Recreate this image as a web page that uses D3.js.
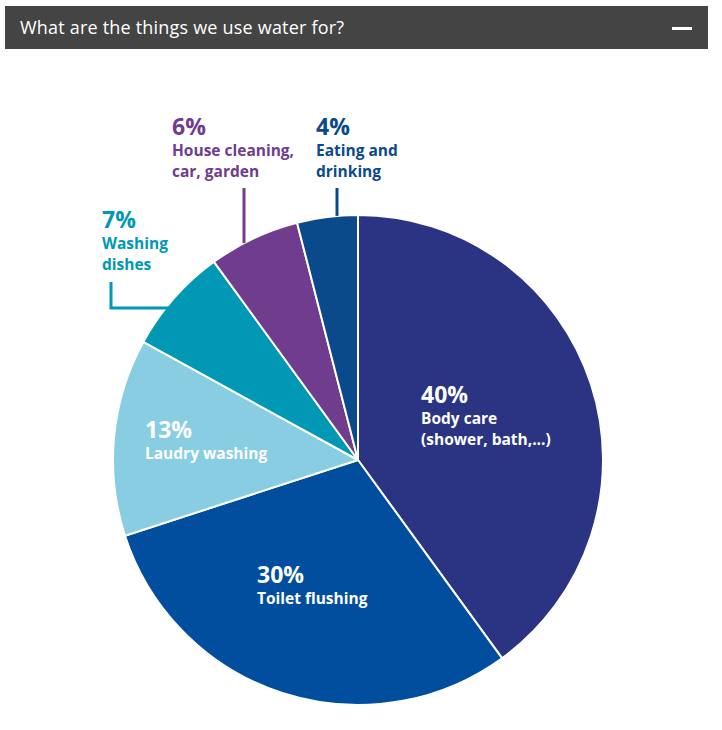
<!DOCTYPE html>
<html>
<head>
<meta charset="utf-8">
<script src="https://cdn.jsdelivr.net/npm/d3@7"></script>
<style>
  body { margin: 0; background: #fff; }
  svg text { font-family: "Open Sans", sans-serif; }
</style>
</head>
<body>
<div id="chart"></div>
<script>
var title = "What are the things we use water for?";
var categories = ["Body care", "Toilet flushing", "Laudry washing", "Washing dishes", "House cleaning", "Eating and drinking"];
var values = [40, 30, 13, 7, 6, 4];
var colors = ["#2b3482", "#004e9d", "#89cde3", "#0098b4", "#703c8d", "#0a4a8b"];
// label lines as shown in the picture
var labelLines = [
  ["Body care", "(shower, bath,...)"],
  ["Toilet flushing"],
  ["Laudry washing"],
  ["Washing", "dishes"],
  ["House cleaning,", "car, garden"],
  ["Eating and", "drinking"]
];

var width = 722, height = 730;
var cx = 358, cy = 460, radius = 245;

var svg = d3.select('#chart').append('svg')
  .attr('width', width)
  .attr('height', height);

// header bar
svg.append('rect')
  .attr('x', 5).attr('y', 6)
  .attr('width', 703).attr('height', 43)
  .attr('fill', '#444444');
svg.append('text')
  .attr('x', 20).attr('y', 34)
  .attr('fill', '#fff')
  .attr('font-size', 18)
  .attr('letter-spacing', 0.2)
  .text(title);
svg.append('rect')
  .attr('x', 672).attr('y', 27)
  .attr('width', 20).attr('height', 3)
  .attr('fill', '#fff');

var pie = d3.pie().sort(null).value(function (d) { return d; });
var arcs = pie(values);
var arc = d3.arc().innerRadius(0).outerRadius(radius);

var g = svg.append('g').attr('transform', 'translate(' + cx + ',' + cy + ')');

g.selectAll('path').data(arcs)
  .enter().append('path')
  .attr('d', arc)
  .attr('fill', function (d, i) { return colors[i]; })
  .attr('stroke', '#fff')
  .attr('stroke-width', 2)
  .attr('stroke-linejoin', 'round');

// label placement (layout only): inside slices use offset from pie centre,
// outside ones use a leader from the arc edge
var labelLayout = [
  { x: 63, y: -57, inside: true },
  { x: -101, y: 123, inside: true },
  { x: -213, y: -22, inside: true },
  { x: -256, y: -232, lead: 'elbow', lx: -247, ly: -152 },
  { x: -186, y: -325, lead: 'vertical', lx: -114 },
  { x: -42, y: -325, lead: 'vertical', lx: -21 }
];

function arcY(x) { return -Math.sqrt(radius * radius - x * x); }

arcs.forEach(function (d, i) {
  var L = labelLayout[i];
  var col = L.inside ? '#fff' : colors[i];
  var t = g.append('text')
    .attr('x', L.x).attr('y', L.y)
    .attr('fill', col)
    .attr('font-weight', 700);
  t.append('tspan')
    .attr('x', L.x)
    .attr('font-size', 23)
    .text(values[i] + '%');
  labelLines[i].forEach(function (line) {
    t.append('tspan')
      .attr('x', L.x)
      .attr('dy', 21)
      .attr('font-size', 15.5)
      .text(line);
  });

  if (L.lead == 'vertical') {
    g.append('line')
      .attr('x1', L.lx).attr('y1', L.y + 53)
      .attr('x2', L.lx).attr('y2', arcY(L.lx))
      .attr('stroke', colors[i])
      .attr('stroke-width', 3);
  } else if (L.lead == 'elbow') {
    var ex = -Math.sqrt(radius * radius - L.ly * L.ly);
    g.append('path')
      .attr('d', 'M' + L.lx + ',' + (L.y + 54) + 'V' + L.ly + 'H' + (ex + 6))
      .attr('fill', 'none')
      .attr('stroke', colors[i])
      .attr('stroke-width', 3);
  }
});
</script>
</body>
</html>
